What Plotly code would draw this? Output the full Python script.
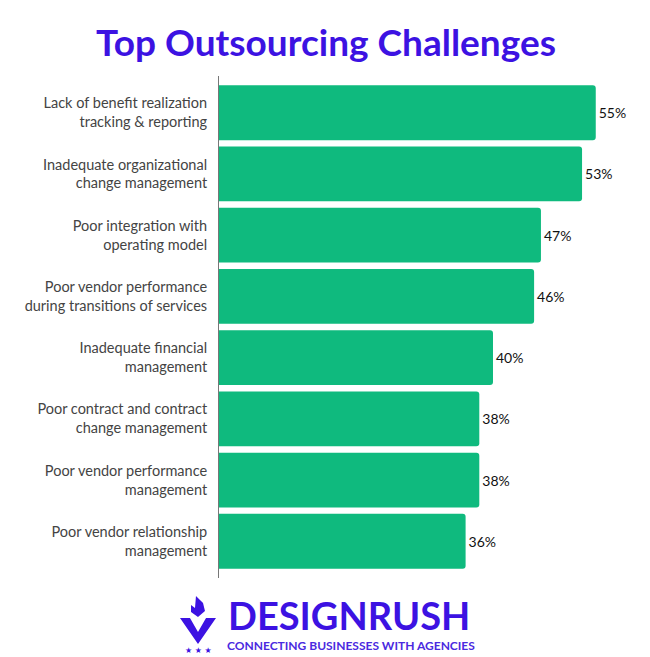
import plotly.graph_objects as go

# data
challenges = [
    "Lack of benefit realization<br>tracking & reporting",
    "Inadequate organizational<br>change management",
    "Poor integration with<br>operating model",
    "Poor vendor performance<br>during transitions of services",
    "Inadequate financial<br>management",
    "Poor contract and contract<br>change management",
    "Poor vendor performance<br>management",
    "Poor vendor relationship<br>management",
]
shares = [55, 53, 47, 46, 40, 38, 38, 36]
share_labels = [f"{v}%" for v in shares]

GREEN = "#0fba7e"
PURPLE = "#3c12e2"
FONT = "Lato, Inter, sans-serif"

# the page body has an 8px margin, so the figure is drawn 8px in from the corner
PAGE = 8
W, H = 650 - PAGE, 657 - PAGE
ML, MR, MT, MB = 219 - PAGE, 20, 76 - PAGE, 79
PW, PH = W - ML - MR, H - MT - MB


def paper_x(px):
    # screen x -> paper x
    return (px - PAGE - ML) / PW


def paper_y(py):
    # screen y -> paper y
    return (H - MB - (py - PAGE)) / PH


fig = go.Figure(
    go.Bar(
        x=shares,
        y=challenges,
        orientation="h",
        marker=dict(color=GREEN, line_width=0),
        text=share_labels,
        textposition="outside",
        textfont=dict(family=FONT, size=14, color="#111111"),
        cliponaxis=False,
        hoverinfo="skip",
    )
)

fig.update_layout(
    width=W,
    height=H,
    margin=dict(l=ML, r=MR, t=MT, b=MB),
    plot_bgcolor="white",
    paper_bgcolor="white",
    showlegend=False,
    bargap=0.105,
    barcornerradius=3,
    title=dict(
        text="<b>Top Outsourcing Challenges</b>",
        x=(326 - PAGE) / W, xanchor="center",
        y=1 - (43 - PAGE) / H, yanchor="middle",
        font=dict(family=FONT, size=37, color=PURPLE),
    ),
    font=dict(family=FONT, size=15, color="#444444"),
)

fig.update_xaxes(range=[0, 60], visible=False, fixedrange=True)
fig.update_yaxes(
    autorange=False,
    range=[7.6, -0.6],
    showline=True,
    linecolor="#777777",
    linewidth=1,
    showgrid=False,
    ticks="",
    ticklabelstandoff=8,
    tickfont=dict(family=FONT, size=14.5, color="#444444"),
)

# DesignRush logo: wordmark and tagline
fig.add_annotation(
    text="<b>DESIGNRUSH</b>", xref="paper", yref="paper",
    x=paper_x(226), y=paper_y(615),
    xanchor="left", yanchor="middle", showarrow=False,
    font=dict(family=FONT, size=38, color=PURPLE),
)
fig.add_annotation(
    text="<b>CONNECTING BUSINESSES WITH AGENCIES</b>", xref="paper", yref="paper",
    x=paper_x(225), y=paper_y(646),
    xanchor="left", yanchor="middle", showarrow=False,
    font=dict(family=FONT, size=12, color="#4a2ae0"),
)
fig.add_annotation(
    text="★ ★ ★", xref="paper", yref="paper",
    x=paper_x(198), y=paper_y(650),
    xanchor="center", yanchor="middle", showarrow=False,
    font=dict(family="DejaVu Sans", size=8, color=PURPLE),
)


# icon: V shape with a flame on top
def px_path(points):
    parts = []
    for i, (px, py) in enumerate(points):
        parts.append(("M" if i == 0 else "L") + f"{paper_x(px):.4f},{paper_y(py):.4f}")
    return " ".join(parts) + " Z"


v_shape = [(180, 618), (190, 618), (198, 632), (206, 618), (216, 618), (198, 644)]
flame = [(196, 596), (203, 603), (205, 611), (198, 617), (191, 612), (191, 605), (195, 608)]
for pts in (v_shape, flame):
    fig.add_shape(
        type="path", xref="paper", yref="paper",
        path=px_path(pts), fillcolor=PURPLE, line_width=0,
    )

fig.write_html("out.html")
